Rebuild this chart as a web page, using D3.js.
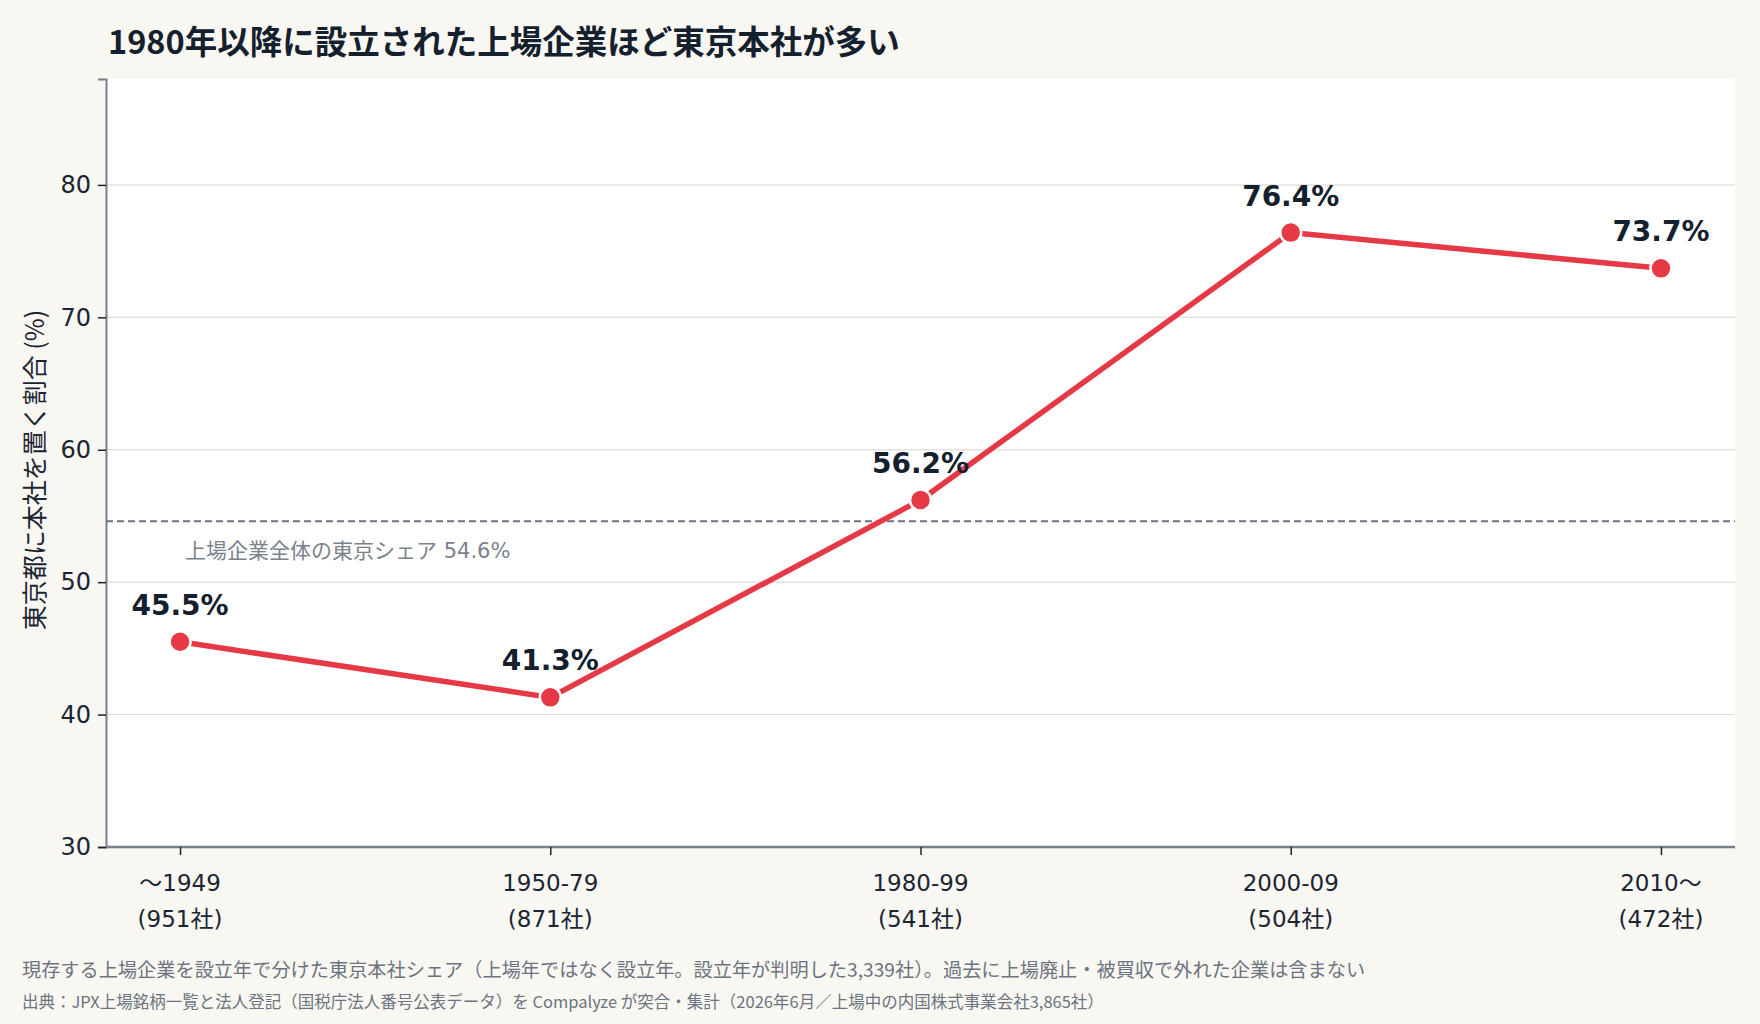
<!DOCTYPE html>
<meta charset="utf-8">
<html>
<script src="https://d3js.org/d3.v7.min.js"></script>
<body style="margin:0; background:#f9f7f1;">
<style>
    text { font-family: "Noto Sans CJK JP", "Noto Sans", sans-serif; }
    .num { font-family: "DejaVu Sans", "Noto Sans CJK JP", sans-serif; }
</style>
<div id="chart"></div>
<script>
    // data
    var periods = ["〜1949", "1950-79", "1980-99", "2000-09", "2010〜"];
    var companyCounts = [951, 871, 541, 504, 472];
    var tokyoShare = [45.5, 41.3, 56.2, 76.4, 73.7];
    var overallShare = 54.6;
    var yTicks = [30, 40, 50, 60, 70, 80];

    var W = 1760, H = 1024;
    var margin = {top: 79, right: 25, bottom: 177, left: 106};
    var width = W - margin.left - margin.right,
        height = H - margin.top - margin.bottom;

    var svg = d3.select("#chart").append("svg")
        .attr("width", W)
        .attr("height", H);

    svg.append("rect").attr("width", W).attr("height", H).attr("fill", "#f9f7f1");

    // title
    svg.append("text")
        .attr("x", 108)
        .attr("y", 54)
        .attr("font-size", "32.5px")
        .attr("font-weight", 700)
        .attr("fill", "#14202e")
        .text("1980年以降に設立された上場企業ほど東京本社が多い");

    var g = svg.append("g")
        .attr("transform", "translate(" + margin.left + "," + margin.top + ")");

    // plot background
    g.append("rect").attr("width", width).attr("height", height).attr("fill", "#ffffff");

    var x = d3.scalePoint().domain(periods).range([0, width]).padding(0.2);
    var y = d3.scaleLinear().domain([30, 88]).range([height, 0]);

    // gridlines
    g.selectAll(".grid")
        .data(yTicks.filter(function(d) { return d > 30; }))
        .enter().append("line")
        .attr("x1", 0).attr("x2", width)
        .attr("y1", function(d) { return y(d); })
        .attr("y2", function(d) { return y(d); })
        .attr("stroke", "#e6e2db")
        .attr("stroke-width", 1.5);

    // y axis
    var yAxis = g.append("g")
        .call(d3.axisLeft(y).tickValues(yTicks).tickSize(8).tickPadding(7));
    yAxis.select(".domain").attr("stroke", "#77808a").attr("stroke-width", 2);
    yAxis.selectAll(".tick line").attr("stroke", "#1b2533").attr("stroke-width", 1.5);
    yAxis.selectAll(".tick text")
        .attr("class", "num")
        .attr("font-size", "24px")
        .attr("fill", "#1b2533");

    // x axis
    var xAxis = g.append("g")
        .attr("transform", "translate(0," + height + ")")
        .call(d3.axisBottom(x).tickSize(8).tickFormat(""));
    xAxis.select(".domain").attr("stroke", "#77808a").attr("stroke-width", 2.5)
        .attr("d", "M0,0H" + width);
    xAxis.selectAll(".tick line").attr("stroke", "#1b2533").attr("stroke-width", 1.5);

    // two-line x labels
    periods.forEach(function(p, i) {
        var t = g.append("text")
            .attr("class", "num")
            .attr("text-anchor", "middle")
            .attr("font-size", "23px")
            .attr("fill", "#1b2533");
        t.append("tspan").attr("x", x(p)).attr("y", height + 44).text(p);
        t.append("tspan").attr("x", x(p)).attr("y", height + 80).text("(" + companyCounts[i] + "社)");
    });

    // y axis label
    svg.append("text")
        .attr("transform", "translate(44,470) rotate(-90)")
        .attr("text-anchor", "middle")
        .attr("font-size", "25px")
        .attr("fill", "#1b2533")
        .text("東京都に本社を置く割合 (%)");

    // overall reference line
    g.append("line")
        .attr("x1", 0).attr("x2", width)
        .attr("y1", y(overallShare)).attr("y2", y(overallShare))
        .attr("stroke", "#6b7480")
        .attr("stroke-width", 2)
        .attr("stroke-dasharray", "7,4");

    g.append("text")
        .attr("class", "num")
        .attr("x", 79)
        .attr("y", y(overallShare) + 37)
        .attr("font-size", "21px")
        .attr("fill", "#7a828c")
        .text("上場企業全体の東京シェア " + overallShare + "%");

    // the line
    var pts = periods.map(function(p, i) { return {p: p, v: tokyoShare[i]}; });

    g.append("path")
        .datum(pts)
        .attr("fill", "none")
        .attr("stroke", "#e63946")
        .attr("stroke-width", 5.5)
        .attr("d", d3.line()
            .x(function(d) { return x(d.p); })
            .y(function(d) { return y(d.v); }));

    g.selectAll(".dot")
        .data(pts)
        .enter().append("circle")
        .attr("cx", function(d) { return x(d.p); })
        .attr("cy", function(d) { return y(d.v); })
        .attr("r", 10.5)
        .attr("fill", "#e63946")
        .attr("stroke", "#ffffff")
        .attr("stroke-width", 2.5);

    // value labels
    g.selectAll(".val")
        .data(pts)
        .enter().append("text")
        .attr("class", "num")
        .attr("x", function(d) { return x(d.p); })
        .attr("y", function(d) { return y(d.v) - 27; })
        .attr("text-anchor", "middle")
        .attr("font-size", "28px")
        .attr("font-weight", 700)
        .attr("fill", "#14202e")
        .text(function(d) { return d.v.toFixed(1) + "%"; });

    // footnotes
    svg.append("text")
        .attr("x", 22)
        .attr("y", 977)
        .attr("font-size", "19.2px")
        .attr("fill", "#6b7480")
        .text("現存する上場企業を設立年で分けた東京本社シェア（上場年ではなく設立年。設立年が判明した3,339社）。過去に上場廃止・被買収で外れた企業は含まない");

    svg.append("text")
        .attr("x", 22)
        .attr("y", 1008)
        .attr("font-size", "16.5px")
        .attr("fill", "#6b7480")
        .text("出典：JPX上場銘柄一覧と法人登記（国税庁法人番号公表データ）を Compalyze が突合・集計（2026年6月／上場中の内国株式事業会社3,865社）");
</script>
</body>
</html>
